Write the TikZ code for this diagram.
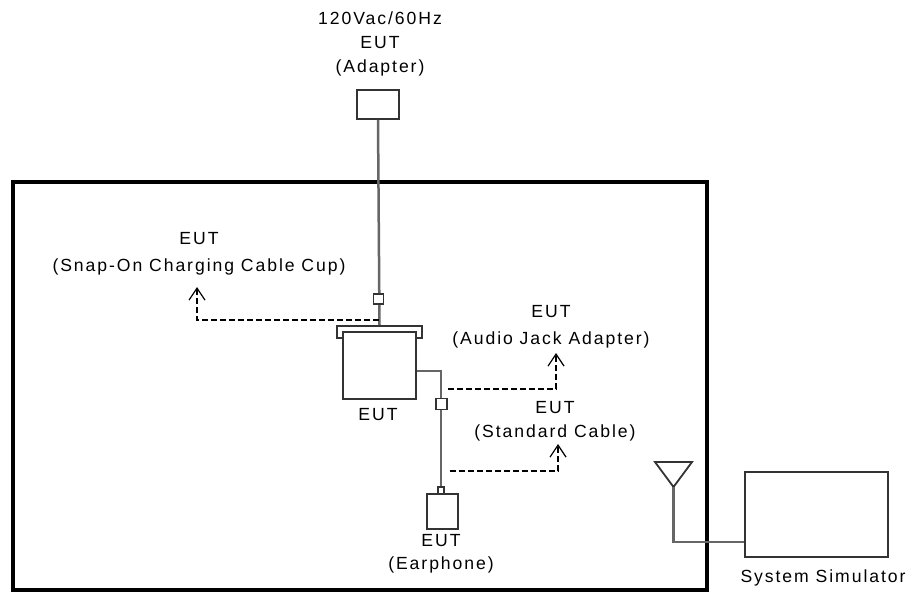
\documentclass[tikz,border=0pt]{standalone}
\usepackage{fontspec}
\setmainfont{Liberation Sans}[LetterSpace=11]
\usetikzlibrary{arrows.meta}
\begin{document}
\begin{tikzpicture}[x=1pt,y=-1pt,
  lbl/.style={inner sep=0pt,font=\fontsize{17.6}{24}\selectfont,align=center,text=black},
  thin/.style={draw=black!80,line width=1.8pt},
  cable/.style={draw=black!60,line width=2.5pt},
  dsh/.style={draw=black,line width=1.3pt,dash pattern=on 6pt off 3pt},
  arr/.style={dsh,-{Straight Barb[length=12pt,width=16pt,line width=1.2pt]}},
  conn/.style={thin,fill=white}]
\useasboundingbox (0,0) rectangle (914,592);
% outer frame
\node[draw=black,line width=3.6pt,minimum width=694pt,minimum height=408pt,inner sep=0pt] (room) at (360,386) {};
% adapter
\node[lbl] (adtxt) at (380,44) {120Vac/60Hz\\EUT\\(Adapter)};
\node[thin,minimum width=42pt,minimum height=29pt,inner sep=0pt] (adapter) at (378,104.5) {};
% cup
\node[thin,fill=white,minimum width=85pt,minimum height=12pt,inner sep=0pt] (plate) at (379.5,332) {};
\node[thin,fill=white,minimum width=73pt,minimum height=67pt,inner sep=0pt] (eut) at (379.5,365.5) {};
\node[lbl] (euttxt) at (378,415) {EUT};
\draw[cable] (adapter.south) -- (plate.north);
\node[conn,minimum size=10pt,inner sep=0pt] (c1) at (378.5,299) {};
\coordinate (d1s) at (378.5,320);
\coordinate (d1c) at (197,320);
\coordinate (d1e) at (197,287);
\draw[arr] (d1s) -- (d1c) -- (d1e);
\node[lbl,font=\fontsize{17.6}{27}\selectfont] (cuptxt) at (199,254) {EUT\\(Snap-On Charging Cable Cup)};
% earphone cable
\coordinate (k1) at (441,371);
\node[thin,minimum width=31pt,minimum height=35pt,inner sep=0pt] (ear) at (442.5,511.5) {};
\node[conn,minimum width=6pt,minimum height=7pt,inner sep=0pt] (c3) at (441,490.5) {};
\draw[cable] (eut.east |- k1) -- (k1) -- (c3.north);
\node[conn,minimum size=11pt,inner sep=0pt] (c2) at (441.5,404) {};
\node[lbl,font=\fontsize{17.6}{23}\selectfont] (eartxt) at (441,553.5) {EUT\\(Earphone)};
% audio jack dashed
\coordinate (d2s) at (448,389);
\coordinate (d2c) at (556,389);
\coordinate (d2e) at (556,353);
\draw[arr] (d2s) -- (d2c) -- (d2e);
\node[lbl,font=\fontsize{17.6}{27}\selectfont] (ajtxt) at (551,326.5) {EUT\\(Audio Jack Adapter)};
% standard cable dashed
\coordinate (d3s) at (450,471);
\coordinate (d3c) at (558,471);
\coordinate (d3e) at (558,444);
\draw[arr] (d3s) -- (d3c) -- (d3e);
\node[lbl] (sctxt) at (555,421) {EUT\\(Standard Cable)};
% antenna and simulator
\coordinate (a1) at (655,462);
\coordinate (a2) at (692,462);
\coordinate (a3) at (673.5,487);
\draw[thin,line join=miter] (a1) -- (a2) -- (a3) -- cycle;
\node[thin,minimum width=143pt,minimum height=85pt,inner sep=0pt] (sim) at (816.5,514.5) {};
\draw[cable] (a3) -- (673.5,542) -- (sim.west |- 0,542);
\node[lbl] (simtxt) at (823,578) {System Simulator};
\end{tikzpicture}
\end{document}
